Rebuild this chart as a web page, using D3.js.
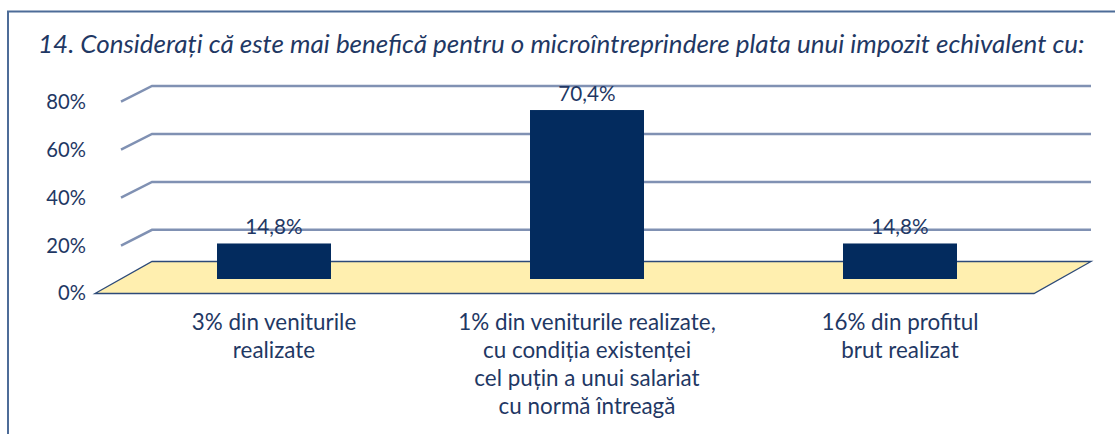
<!DOCTYPE html>
<html>
<head>
<meta charset="utf-8">
<script src="https://cdn.jsdelivr.net/npm/d3@7"></script>
<style>
  html, body { margin: 0; padding: 0; background: #ffffff; }
  svg { display: block; }
</style>
</head>
<body>
<svg id="chart" width="1115" height="434"></svg>
<script>
// ---- data ----
const title = "14. Considerați că este mai benefică pentru o microîntreprindere plata unui impozit echivalent cu:";
const categories = [
  ["3% din veniturile", "realizate"],
  ["1% din veniturile realizate,", "cu condiția existenței", "cel puțin a unui salariat", "cu normă întreagă"],
  ["16% din profitul", "brut realizat"]
];
const values = [14.8, 70.4, 14.8];
const yTicks = [0, 20, 40, 60, 80];

// ---- style ----
const TEXT = "#1f3864";
const BAR = "#032b5e";
const GRID = "#8091b3";
const FLOOR = "#ffefaf";
const FONT = "Lato, 'Open Sans', sans-serif";

const svg = d3.select("#chart");

// fit font-size so that a sample string has the target width
function fitSize(sample, targetWidth, italic) {
  const t = svg.append("text").attr("font-family", FONT).attr("font-size", 100)
    .attr("font-style", italic ? "italic" : "normal").text(sample);
  const w = t.node().getComputedTextLength();
  t.remove();
  return 100 * targetWidth / w;
}

const ro = d3.formatLocale({decimal: ",", thousands: ".", grouping: [3], currency: ["", ""]});
const fmtVal = v => ro.format(".1f")(v) + "%";

// ---- geometry ----
const backLeft = 152, backRight = 1091;
const depthDx = 31, depthDy = 15.7;        // wall gridline perspective
const floorDx = 57, floorDy = 32;          // floor perspective
const yFront = d3.scaleLinear().domain([0, 80]).range([293.5, 101.7]);
const yBar = d3.scaleLinear().domain([0, 80]).range([279, 87]);
const x = d3.scalePoint().domain(d3.range(categories.length)).range([117.5, 1056.5]).padding(0.5);
const barW = 114;

// border
svg.append("path")
  .attr("d", `M8,440 L8,11.5 L1120,11.5`)
  .attr("fill", "none").attr("stroke", "#4d6c98").attr("stroke-width", 2);

// title
const titleSize = fitSize(title, 1047, true);
svg.append("text")
  .attr("x", 38).attr("y", 53.3)
  .attr("font-family", FONT).attr("font-style", "italic")
  .attr("font-size", titleSize).attr("fill", TEXT)
  .text(title);

// gridlines (wall)
svg.append("g").selectAll("path")
  .data(yTicks.filter(d => d > 0))
  .join("path")
  .attr("d", d => {
    const yf = yFront(d);
    return `M${backLeft - depthDx},${yf} L${backLeft},${yf - depthDy} L${backRight},${yf - depthDy}`;
  })
  .attr("fill", "none").attr("stroke", GRID).attr("stroke-width", 2.5);

// floor
const y0 = yFront(0);
svg.append("path")
  .attr("d", `M${backLeft - floorDx},${y0} L${backLeft},${y0 - floorDy} L${backRight},${y0 - floorDy} L${backRight - floorDx},${y0} Z`)
  .attr("fill", FLOOR).attr("stroke", "#2d4a78").attr("stroke-width", 1.3)
  .attr("stroke-linejoin", "miter");

// y axis labels
const tickSize = fitSize("80%", 39.7, false);
const axis = d3.axisLeft(yFront).tickValues(yTicks).tickFormat(d => d + "%").tickSize(0).tickPadding(0);
const gAxis = svg.append("g").attr("transform", "translate(86,0)").call(axis);
gAxis.select(".domain").remove();
gAxis.selectAll("text").attr("font-family", FONT).attr("font-size", tickSize).attr("fill", TEXT);

// bars
svg.append("g").selectAll("rect")
  .data(values)
  .join("rect")
  .attr("x", (d, i) => x(i) - barW / 2)
  .attr("y", d => yBar(d))
  .attr("width", barW)
  .attr("height", d => yBar(0) - yBar(d))
  .attr("fill", BAR);

// data labels
const dlSize = fitSize("70,4%", 57.3, false);
svg.append("g").selectAll("text")
  .data(values)
  .join("text")
  .attr("x", (d, i) => x(i))
  .attr("y", d => yBar(d) - 9.5)
  .attr("text-anchor", "middle")
  .attr("font-family", FONT).attr("font-size", dlSize).attr("fill", TEXT)
  .text(d => fmtVal(d));

// category labels
const catSize = fitSize("1% din veniturile realizate,", 257.7, false);
const gc = svg.append("g");
categories.forEach((lines, i) => {
  const t = gc.append("text")
    .attr("text-anchor", "middle")
    .attr("font-family", FONT).attr("font-size", catSize).attr("fill", TEXT);
  lines.forEach((ln, j) => {
    t.append("tspan").attr("x", x(i)).attr("y", 330 + j * 28).text(ln);
  });
});
</script>
</body>
</html>
